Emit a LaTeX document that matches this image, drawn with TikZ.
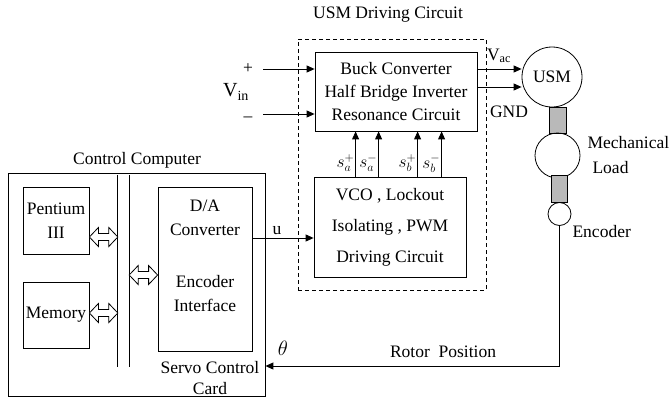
\documentclass[tikz,border=0pt]{standalone}
\usepackage{fontspec}
\setmainfont{Liberation Serif}
\usetikzlibrary{positioning, arrows.meta, shapes, calc}

% hollow two-way arrow between two points on one level
\newcommand{\busarrow}[2]{%
  \draw[line width=0.8pt, fill=white] let \p1=(#1), \p2=(#2) in
    (\x1,\y1) -- (\x1+9pt,\y1+9.5pt) -- (\x1+9pt,\y1+3.5pt) -- (\x2-9pt,\y1+3.5pt)
    -- (\x2-9pt,\y1+9.5pt) -- (\x2,\y1) -- (\x2-9pt,\y1-9.5pt) -- (\x2-9pt,\y1-3.5pt)
    -- (\x1+9pt,\y1-3.5pt) -- (\x1+9pt,\y1-9.5pt) -- cycle;}

\begin{document}
\begin{tikzpicture}[
    x=1pt, y=-1pt,
    font=\fontsize{17.5}{24}\selectfont,
    >={Triangle[length=8pt, width=7pt]},
    block/.style={rectangle, draw, line width=0.8pt, inner sep=0pt, align=center},
    motor/.style={circle, draw, line width=0.8pt, inner sep=0pt},
    shaft/.style={rectangle, draw, line width=0.8pt, fill=gray!55, inner sep=0pt},
    arrow/.style={->, line width=0.9pt},
    sig/.style={font=\fontsize{17}{17}\selectfont, inner sep=0pt}
]
\useasboundingbox (0,0) rectangle (669,397);

% Control computer
\node[block, minimum width=257pt, minimum height=223pt] (computer) at (136.5,284.5) {};
\node (comptitle) at (137,160) {Control Computer};
\node[block, minimum width=66pt, minimum height=67pt] (pentium) at (56,220.5) {Pentium\\III};
\node[block, minimum width=66pt, minimum height=66pt] (memory) at (56,315) {Memory};
\node[minimum width=11pt, minimum height=192pt, inner sep=0pt] (bus) at (123.5,271) {};
\draw[line width=0.8pt] (bus.north west) -- (bus.south west) (bus.north east) -- (bus.south east);
\node[block, minimum width=94pt, minimum height=164pt] (da) at (205,269) {};
\node[align=center] (datext) at (205,256) {D/A\\Converter\\[28pt]Encoder\\Interface};
\node[align=center] (servo) at (210,378) {Servo Control\\[-3pt]Card};

\busarrow{[yshift=-16.5pt]pentium.east}{[yshift=-16.5pt]pentium.east -| bus.west}
\busarrow{[yshift=2pt]memory.east}{[yshift=2pt]memory.east -| bus.west}
\busarrow{[yshift=-6pt]da.west -| bus.east}{[yshift=-6pt]da.west}

% USM driving circuit
\node[draw, dash pattern=on 4pt off 3pt, line width=0.8pt, minimum width=188pt, minimum height=251pt] (driver) at (392,164.5) {};
\node (drvtitle) at (388,15) {USM Driving Circuit};
\node[block, minimum width=162pt, minimum height=79pt] (buck) at (396,91.5) {Buck Converter\\[-1pt]Half Bridge Inverter\\[-1pt]Resonance Circuit};
\node[block, minimum width=152pt, minimum height=100pt] (vco) at (390,227) {VCO , Lockout\\[7pt]Isolating , PWM\\[7pt]Driving Circuit};

\foreach \dx/\sname in {42/{s_a^+}, 65/{s_a^-}, 104/{s_b^+}, 128/{s_b^-}}
    \draw[arrow] ([xshift=\dx pt]vco.north west) -- node[sig, left=1pt, pos=0.3] {$\sname$} ([xshift=\dx pt]vco.north west |- buck.south);

\draw[arrow] ([yshift=31pt]da.east) -- node[above, pos=0.4] {u} ([yshift=31pt]da.east -| vco.west);

% supply voltage
\coordinate (vinp) at (263,69);
\coordinate (vinm) at (263,114);
\draw[arrow] (vinp) -- (vinp -| buck.west);
\draw[arrow] (vinm) -- (vinm -| buck.west);
\node (plus) at (248,69) {+};
\node (minus) at (248,119) {--};
\node[font=\fontsize{20}{20}\selectfont] (vin) at (236,92) {V\textsubscript{in}};

% motor and load
\node[motor, minimum size=60pt] (usm) at (552,77) {USM};
\node[shaft, minimum width=17pt, minimum height=26pt] (shaftA) at (557.5,120) {};
\node[motor, minimum size=45pt] (load) at (557.5,155.5) {};
\node[shaft, minimum width=16pt, minimum height=27pt] (shaftB) at (559.5,188.5) {};
\node[motor, minimum size=23pt] (encoder) at (559.5,214) {};
\node[anchor=west] (loadtxt) at (584,143) {Mechanical};
\node[anchor=west] (loadtxt2) at (589,168) {Load};
\node[anchor=west] (enctxt) at (569,232) {Encoder};

\draw[arrow] ([yshift=22.5pt]buck.east) -- ([yshift=22.5pt]buck.east -| usm.west);
\draw[arrow] ([yshift=4.5pt]buck.east) -- ([yshift=4.5pt]buck.east -| usm.west);
\node (vac) at (499,56) {V\textsubscript{ac}};
\node (gnd) at (509,112) {GND};

% feedback
\coordinate (fbcorner) at (559.5,366);
\draw[arrow] (encoder.south) -- (fbcorner) -- (fbcorner -| computer.east);
\node (rotor) at (443,352) {Rotor\ \ Position};
\node[font=\fontsize{22}{22}\selectfont] (theta) at (283,348) {$\theta$};

\end{tikzpicture}
\end{document}
